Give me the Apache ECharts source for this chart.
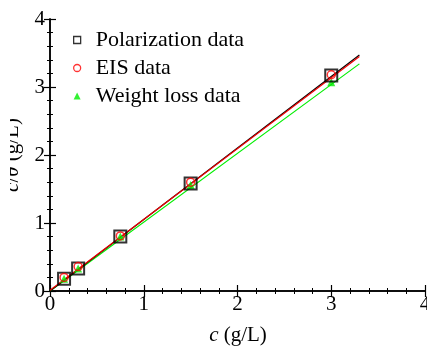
<!DOCTYPE html>
<html>
<head>
<meta charset="utf-8">
<script src="https://cdn.jsdelivr.net/npm/echarts@6/dist/echarts.min.js"></script>
<style>
html, body { margin: 0; padding: 0; background: #fff; }
#chart { width: 427px; height: 347px; }
</style>
</head>
<body>
<div id="chart"></div>
<script>
// concentrations (g/L)
var conc = [0.15, 0.3, 0.75, 1.5, 3.0];
var polData = [0.18, 0.33, 0.80, 1.58, 3.17];
var eisData = [0.20, 0.36, 0.81, 1.60, 3.18];
var wlData = [0.18, 0.33, 0.80, 1.56, 3.07];

// fitted lines, end points
var fitX = [0, 3.3];
var polFit = [0.0, 3.47];
var eisFit = [0.01, 3.45];
var wlFit = [0.0, 3.34];

var ticks = [0, 1, 2, 3, 4];

function pairs(xs, ys) {
    return xs.map(function (x, i) { return [x, ys[i]]; });
}

var serif = 'Liberation Serif';

var chart = echarts.init(document.getElementById('chart'));

var baseAxis = {
    type: 'value',
    min: ticks[0],
    max: ticks[ticks.length - 1],
    interval: 1,
    axisLine: { lineStyle: { color: '#000', width: 1.5 } },
    axisTick: { inside: true, length: 6, lineStyle: { color: '#000', width: 1.2 } },
    minorTick: { show: true, splitNumber: 5, length: 3, lineStyle: { color: '#000', width: 1 } },
    splitLine: { show: false },
    axisLabel: { color: '#000', fontFamily: serif, fontSize: 21, margin: 5 }
};

function axis(extra) {
    return echarts.util.merge(echarts.util.clone(baseAxis), extra, true);
}

var option = {
    animation: false,
    textStyle: { fontFamily: serif },
    grid: { left: 50, right: 2, top: 19, bottom: 56, outerBoundsMode: 'none', containLabel: false },
    xAxis: [
        axis({ position: 'bottom', axisLabel: { margin: 3 } }),
        axis({ position: 'top', axisLabel: { show: false } })
    ],
    yAxis: [
        axis({ position: 'left', axisLabel: { margin: 5 } }),
        axis({ position: 'right', axisLabel: { show: false } })
    ],
    legend: {
        left: 68,
        top: 24,
        orient: 'vertical',
        itemGap: 6,
        itemWidth: 7,
        itemHeight: 7,
        textStyle: { fontFamily: serif, fontSize: 22, color: '#000', padding: [0, 0, 0, 10] },
        data: [
            { name: 'Polarization data', icon: 'rect', itemStyle: { color: '#fff', borderColor: '#000', borderWidth: 1.3 } },
            { name: 'EIS data', icon: 'circle', itemStyle: { color: '#fff', borderColor: '#ff0000', borderWidth: 1.3 } },
            { name: 'Weight loss data', icon: 'triangle', itemStyle: { color: '#00ee00' } }
        ]
    },
    graphic: [
        {
            type: 'text',
            x: 238,
            y: 335,
            style: {
                text: '{i|c} (g/L)',
                textAlign: 'center',
                textVerticalAlign: 'middle',
                font: '21px ' + serif,
                fill: '#000',
                rich: { i: { fontStyle: 'italic', fontFamily: serif, fontSize: 21 } }
            }
        },
        {
            type: 'text',
            x: 12,
            y: 155,
            rotation: Math.PI / 2,
            style: {
                text: '{i|c}/{i|θ} (g/L)',
                textAlign: 'center',
                textVerticalAlign: 'middle',
                font: '21px ' + serif,
                fill: '#000',
                rich: { i: { fontStyle: 'italic', fontFamily: serif, fontSize: 21 } }
            }
        },
        {
            // the original label is partly hidden on its left side
            type: 'rect',
            shape: { x: 0, y: 100, width: 10, height: 110 },
            style: { fill: '#fff' },
            z: 100
        }
    ],
    series: [
        {
            name: 'wlFit', type: 'line', data: pairs(fitX, wlFit), showSymbol: false,
            lineStyle: { color: '#00ee00', width: 1.2 }, z: 1
        },
        {
            name: 'polFit', type: 'line', data: pairs(fitX, polFit), showSymbol: false,
            lineStyle: { color: '#000', width: 1.2 }, z: 1
        },
        {
            name: 'eisFit', type: 'line', data: pairs(fitX, eisFit), showSymbol: false,
            lineStyle: { color: '#ee0000', width: 1.2 }, z: 1
        },
        {
            name: 'Polarization data', type: 'scatter', data: pairs(conc, polData),
            symbol: 'rect', symbolSize: 12,
            itemStyle: { color: 'rgba(0,0,0,0)', borderColor: '#000', borderWidth: 2 }, z: 3
        },
        {
            name: 'EIS data', type: 'scatter', data: pairs(conc, eisData),
            symbol: 'circle', symbolSize: 8,
            itemStyle: { color: 'rgba(0,0,0,0)', borderColor: '#ff0000', borderWidth: 1.5 }, z: 4
        },
        {
            name: 'Weight loss data', type: 'scatter', data: pairs(conc, wlData),
            symbol: 'triangle', symbolSize: 8,
            itemStyle: { color: '#00ee00' }, z: 2
        }
    ]
};

chart.setOption(option);
</script>
</body>
</html>
